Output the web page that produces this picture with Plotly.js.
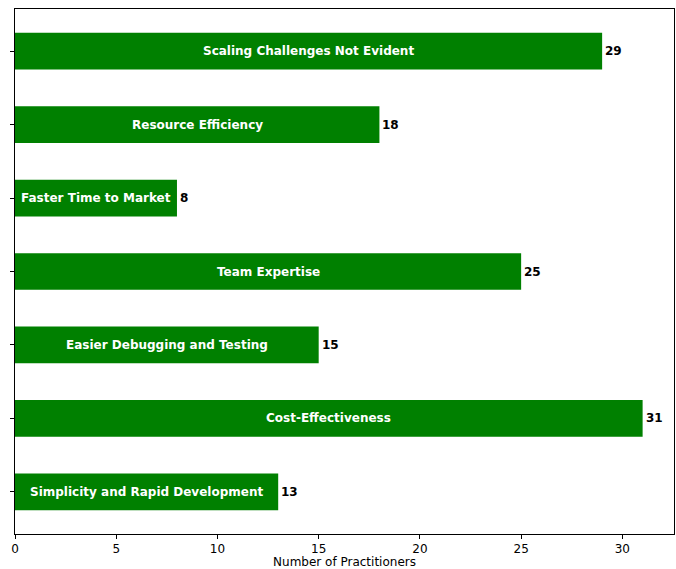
<!DOCTYPE html>
<html>
<head>
<meta charset="utf-8">
<script src="https://cdn.plot.ly/plotly-3.0.1.min.js"></script>
<style>html,body{margin:0;padding:0;background:#fff;}#chart{width:676px;height:569px;}</style>
</head>
<body>
<div id="chart"></div>
<script>
var categories = ["Simplicity and Rapid Development", "Cost-Effectiveness", "Easier Debugging and Testing", "Team Expertise", "Faster Time to Market", "Resource Efficiency", "Scaling Challenges Not Evident"];
var counts = [13, 31, 15, 25, 8, 18, 29];
var xTicks = [0, 5, 10, 15, 20, 25, 30];

var positions = categories.map(function(_, i){ return i; });
var font = "DejaVu Sans, sans-serif";

var annotations = [];
categories.forEach(function(c, i){
  annotations.push({x: counts[i] / 2, y: i, xref: 'x', yref: 'y', text: '<b>' + c + '</b>', showarrow: false,
    font: {family: font, size: 12, color: 'white'}, xanchor: 'center', yanchor: 'middle'});
  annotations.push({x: counts[i], y: i, xref: 'x', yref: 'y', text: '<b>' + counts[i] + '</b>', showarrow: false,
    font: {family: font, size: 12, color: 'black'}, xanchor: 'left', yanchor: 'middle', xshift: 1});
});

var trace = {
  type: 'bar', orientation: 'h', x: counts, y: positions, width: 0.5,
  marker: {color: '#008000', line: {width: 0}}, hoverinfo: 'none'
};

var layout = {
  width: 676, height: 569,
  margin: {l: 15, r: 2, t: 9, b: 35},
  paper_bgcolor: 'white', plot_bgcolor: 'white',
  showlegend: false,
  font: {family: font, size: 12, color: 'black'},
  xaxis: {
    range: [0, 32.55], tickvals: xTicks, ticktext: xTicks.map(String),
    ticks: 'outside', ticklen: 4, tickcolor: 'black', showgrid: false, zeroline: false,
    showline: true, mirror: true, linecolor: 'black', linewidth: 1,
    tickfont: {family: font, size: 12}, fixedrange: true, automargin: false,
    title: {text: 'Number of Practitioners', font: {family: font, size: 12}, standoff: 8}
  },
  yaxis: {
    range: [-0.575, 6.575], tickvals: positions, showticklabels: false,
    ticks: 'outside', ticklen: 4, tickcolor: 'black', showgrid: false, zeroline: false,
    showline: true, mirror: true, linecolor: 'black', linewidth: 1, fixedrange: true
  },
  annotations: annotations
};

Plotly.newPlot('chart', [trace], layout, {displayModeBar: false, staticPlot: true});
</script>
</body>
</html>
